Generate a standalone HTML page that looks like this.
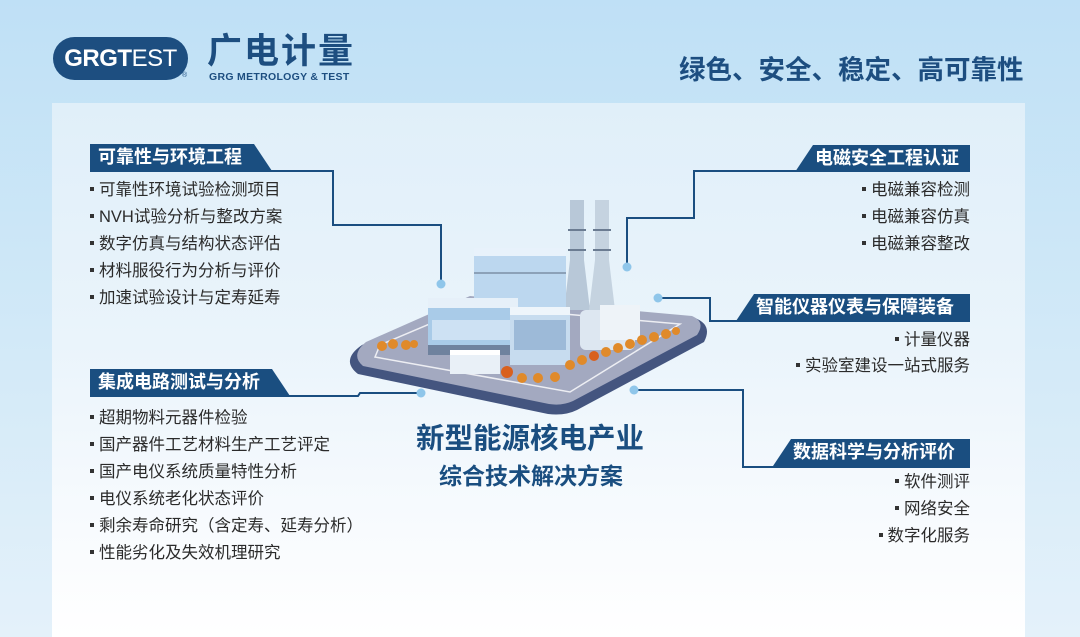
<!DOCTYPE html>
<html><head><meta charset="utf-8"><style>
*{margin:0;padding:0;box-sizing:border-box}
body{width:1080px;height:637px;overflow:hidden;position:relative;font-family:"Liberation Sans","Noto Sans CJK SC",sans-serif;background:linear-gradient(180deg,#bfe0f6 0%,#cde7f7 40%,#e4f1fa 100%)}
.panel{position:absolute;left:52px;top:103px;width:973px;height:534px;background:linear-gradient(180deg,#e0eff9 0%,#eaf4fb 45%,#f8fbfe 80%,#ffffff 100%)}
.t{position:absolute;white-space:nowrap}
.hd{position:absolute;height:27px;background:#1a4e80;color:#fff;font-weight:bold;font-size:18px;line-height:27px}
.li{position:absolute;font-size:16.5px;color:#2b2b2b;white-space:nowrap;line-height:20px}
.li.r{text-align:right}
.b{display:inline-block;width:4px;height:4px;background:#333;vertical-align:middle;margin-right:5px;position:relative;top:-2px}
</style></head><body>
<div class="panel"></div>
<!-- logo -->
<div style="position:absolute;left:53px;top:37px;width:135px;height:43px;border-radius:22px;background:#1d4e80;color:#fff;font-weight:bold;font-size:24px;line-height:43px;text-align:center;letter-spacing:-0.5px">GRGT<span style="font-weight:normal">EST</span></div>
<div class="t" style="left:182px;top:72px;font-size:7px;color:#1d4e80">®</div>
<div class="t" style="left:207px;top:31px;font-size:35px;font-weight:bold;color:#1d4e80;letter-spacing:2px;line-height:42px">广电计量</div>
<div class="t" style="left:209px;top:71px;font-size:10.5px;font-weight:bold;color:#1d4e80;letter-spacing:0.3px">GRG METROLOGY &amp; TEST</div>
<div class="t" style="left:679px;top:53px;font-size:26.5px;font-weight:bold;color:#1d4e80;line-height:34px">绿色、安全、稳定、高可靠性</div>

<svg width="1080" height="637" style="position:absolute;left:0;top:0">
<g fill="none" stroke="#1a4e80" stroke-width="2">
<polyline points="90,171 333,171 333,225 441,225 441,283"/>
<polyline points="90,396 358,396 360,393 421,393"/>
<polyline points="970,171 694,171 694,218 627,218 627,266"/>
<polyline points="970,321 710,321 710,298 659,298"/>
<polyline points="970,467 743,467 743,390 635,390"/>
</g>
<g fill="#8fc6ea"><circle cx="441" cy="284" r="4.5"/><circle cx="421" cy="393" r="4.5"/><circle cx="627" cy="267" r="4.5"/><circle cx="658" cy="298" r="4.5"/><circle cx="634" cy="390" r="4.5"/></g>
<!-- platform -->
<path d="M362,345 L470,298 L695,318 Q713,325 704,342 L577,410 Q565,416 548,414 L358,374 Q340,360 362,345Z" fill="#44557f"/>
<path d="M366,342 L470,296 L692,316 Q706,322 697,335 L573,401 Q562,406 549,404 L363,366 Q350,355 366,342Z" fill="#a3a9c0"/>
<path d="M380,345 L472,306 L680,324 L570,392 L375,357Z" fill="none" stroke="#fff" stroke-width="1.5" opacity=".8"/>
<!-- chimneys -->
<path d="M570,200 h14 v60 l6,50 h-26 l6,-50z" fill="#b8c8d8"/>
<path d="M595,200 h14 v60 l6,50 h-26 l6,-50z" fill="#c5d3e0"/>
<g stroke="#6b7c92" stroke-width="2"><line x1="568" y1="230" x2="586" y2="230"/><line x1="568" y1="250" x2="586" y2="250"/><line x1="593" y1="230" x2="611" y2="230"/><line x1="593" y1="250" x2="611" y2="250"/></g>
<!-- big block -->
<rect x="474" y="248" width="92" height="65" fill="#bcd7ef"/>
<rect x="474" y="248" width="92" height="8" fill="#e8f2fb"/>
<line x1="474" y1="273" x2="566" y2="273" stroke="#7d8fa6" stroke-width="1.5"/>
<!-- left building -->
<rect x="428" y="300" width="90" height="55" fill="#a9cbe8"/>
<rect x="428" y="298" width="90" height="10" fill="#e6f0f9"/>
<rect x="432" y="320" width="82" height="20" fill="#cde1f3"/>
<rect x="428" y="345" width="90" height="10" fill="#6f829e"/>
<!-- mid building -->
<rect x="510" y="310" width="60" height="55" fill="#c7dcef"/>
<rect x="510" y="307" width="60" height="8" fill="#eef5fb"/>
<rect x="514" y="320" width="52" height="30" fill="#9dbad8"/>
<!-- right tanks -->
<rect x="580" y="310" width="55" height="40" rx="6" fill="#dde7f1"/>
<rect x="600" y="305" width="40" height="35" fill="#eef3f8"/>
<!-- small building -->
<rect x="450" y="352" width="50" height="22" fill="#e9f0f7"/>
<rect x="450" y="350" width="50" height="5" fill="#fff"/>
<!-- trees -->
<g fill="#e08a2a">
<circle cx="382" cy="346" r="5"/><circle cx="393" cy="344" r="5"/><circle cx="406" cy="345" r="5"/><circle cx="414" cy="344" r="4"/>
<circle cx="507" cy="372" r="6" fill="#d9601e"/><circle cx="522" cy="378" r="5"/><circle cx="538" cy="378" r="5"/><circle cx="555" cy="377" r="5"/>
<circle cx="570" cy="365" r="5"/><circle cx="582" cy="360" r="5"/><circle cx="594" cy="356" r="5" fill="#d9601e"/><circle cx="606" cy="352" r="5"/><circle cx="618" cy="348" r="5"/><circle cx="630" cy="344" r="5"/><circle cx="642" cy="340" r="5"/><circle cx="654" cy="337" r="5"/><circle cx="666" cy="334" r="5"/><circle cx="676" cy="331" r="4"/>
</g>
</svg>

<!-- headers -->
<div class="hd" style="left:90px;top:144px;width:182px;padding-left:8px;clip-path:polygon(0 0,164px 0,100% 100%,0 100%)">可靠性与环境工程</div>
<div class="hd" style="left:90px;top:369px;width:200px;padding-left:8px;clip-path:polygon(0 0,182px 0,100% 100%,0 100%)">集成电路测试与分析</div>
<div class="hd" style="left:795px;top:145px;width:175px;padding-left:20px;clip-path:polygon(18px 0,100% 0,100% 100%,0 100%)">电磁安全工程认证</div>
<div class="hd" style="left:736px;top:294px;width:234px;padding-left:20px;clip-path:polygon(18px 0,100% 0,100% 100%,0 100%)">智能仪器仪表与保障装备</div>
<div class="hd" style="left:773px;top:439px;width:197px;padding-left:20px;clip-path:polygon(18px 0,100% 0,100% 100%,0 100%)">数据科学与分析评价</div>

<!-- left lists -->
<div class="li" style="left:90px;top:180px"><span class="b"></span>可靠性环境试验检测项目</div>
<div class="li" style="left:90px;top:207px"><span class="b"></span>NVH试验分析与整改方案</div>
<div class="li" style="left:90px;top:234px"><span class="b"></span>数字仿真与结构状态评估</div>
<div class="li" style="left:90px;top:261px"><span class="b"></span>材料服役行为分析与评价</div>
<div class="li" style="left:90px;top:288px"><span class="b"></span>加速试验设计与定寿延寿</div>

<div class="li" style="left:90px;top:408px"><span class="b"></span>超期物料元器件检验</div>
<div class="li" style="left:90px;top:435px"><span class="b"></span>国产器件工艺材料生产工艺评定</div>
<div class="li" style="left:90px;top:462px"><span class="b"></span>国产电仪系统质量特性分析</div>
<div class="li" style="left:90px;top:489px"><span class="b"></span>电仪系统老化状态评价</div>
<div class="li" style="left:90px;top:516px"><span class="b"></span>剩余寿命研究（含定寿、延寿分析）</div>
<div class="li" style="left:90px;top:543px"><span class="b"></span>性能劣化及失效机理研究</div>

<!-- right lists -->
<div class="li r" style="right:110px;top:180px"><span class="b"></span>电磁兼容检测</div>
<div class="li r" style="right:110px;top:207px"><span class="b"></span>电磁兼容仿真</div>
<div class="li r" style="right:110px;top:234px"><span class="b"></span>电磁兼容整改</div>
<div class="li r" style="right:110px;top:330px"><span class="b"></span>计量仪器</div>
<div class="li r" style="right:110px;top:356px"><span class="b"></span>实验室建设一站式服务</div>
<div class="li r" style="right:110px;top:472px"><span class="b"></span>软件测评</div>
<div class="li r" style="right:110px;top:499px"><span class="b"></span>网络安全</div>
<div class="li r" style="right:110px;top:526px"><span class="b"></span>数字化服务</div>

<!-- center title -->
<div class="t" style="left:0;width:1060px;text-align:center;top:422px;font-size:28.5px;font-weight:bold;color:#1a4e80;line-height:34px">新型能源核电产业</div>
<div class="t" style="left:0;width:1062px;text-align:center;top:461px;font-size:23px;font-weight:bold;color:#1a4e80;line-height:30px">综合技术解决方案</div>
</body></html>
